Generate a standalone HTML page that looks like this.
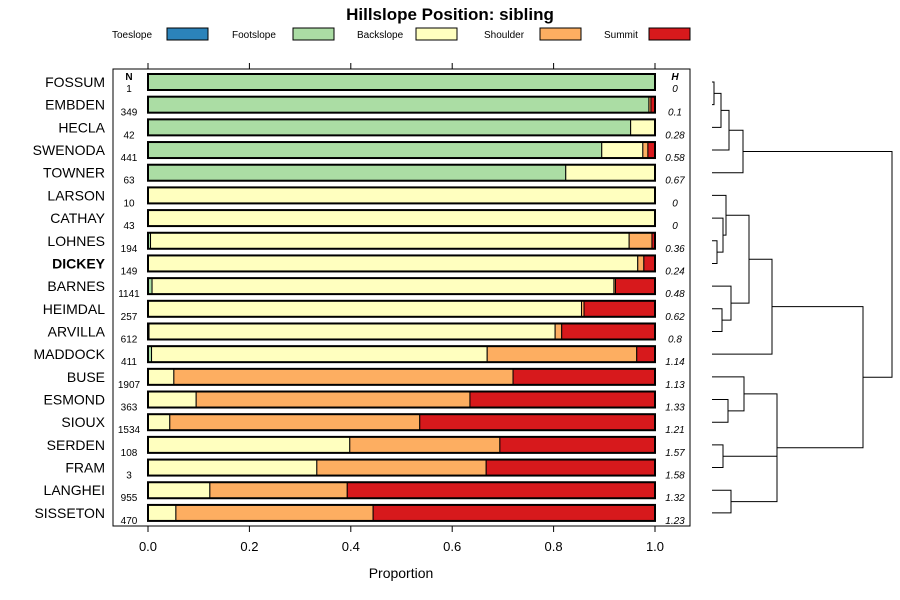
<!DOCTYPE html>
<html><head><meta charset="utf-8"><style>
body{margin:0;background:#fff;font-family:"Liberation Sans",sans-serif}
svg{display:block}
</style></head><body>
<svg id="c" width="900" height="600" font-family="Liberation Sans, sans-serif"></svg>
<script>
const names=["FOSSUM","EMBDEN","HECLA","SWENODA","TOWNER","LARSON","CATHAY","LOHNES","DICKEY","BARNES","HEIMDAL","ARVILLA","MADDOCK","BUSE","ESMOND","SIOUX","SERDEN","FRAM","LANGHEI","SISSETON"];
const counts=[1,349,42,441,63,10,43,194,149,1141,257,612,411,1907,363,1534,108,3,955,470];
const entropy=["0","0.1","0.28","0.58","0.67","0","0","0.36","0.24","0.48","0.62","0.8","1.14","1.13","1.33","1.21","1.57","1.58","1.32","1.23"];
const toeslope=[0,0,0,0,0,0,0,0,0,0,0,0,0,0,0,0,0,0,0,0];
const footslope=[1,0.988,0.952,0.895,0.824,0,0,0.005,0,0.008,0,0.002,0.007,0,0,0,0,0,0,0];
const backslope=[0,0,0.048,0.081,0.176,1,1,0.944,0.966,0.911,0.855,0.801,0.662,0.051,0.095,0.043,0.398,0.333,0.122,0.055];
const shoulder=[0,0.004,0,0.01,0,0,0,0.045,0.012,0.003,0.005,0.013,0.295,0.669,0.54,0.493,0.296,0.334,0.271,0.389];
const summit=[0,0.008,0,0.014,0,0,0,0.006,0.022,0.078,0.14,0.184,0.036,0.28,0.365,0.464,0.306,0.333,0.607,0.556];
const classes=["Toeslope","Footslope","Backslope","Shoulder","Summit"];
const colors=["#2b83ba","#abdda4","#ffffbf","#fdae61","#d7191c"];
const series=[toeslope,footslope,backslope,shoulder,summit];
const xTicks=[0,0.2,0.4,0.6,0.8,1.0];
const xTickLabels=["0.0","0.2","0.4","0.6","0.8","1.0"];

const svg=document.getElementById('c');
const NS="http://www.w3.org/2000/svg";
function mk(t,a,p){const e=document.createElementNS(NS,t);for(const k in a)e.setAttribute(k,a[k]);(p||svg).appendChild(e);return e;}
const x=v=>148+v*507;
const y=i=>82+i*22.68;

let t=mk('text',{x:450,y:20,'text-anchor':'middle','font-size':17,'font-weight':'bold'});t.textContent="Hillslope Position: sibling";


const legX=[112,232,357,484,604];
classes.forEach((c,i)=>{
 const g=mk('g',{});
 
 
 const tx=mk('text',{x:legX[i],y:38,'font-size':10},g);tx.textContent=c;
 const w=[52,58,56,53,42][i];
 mk('rect',{x:legX[i]+w+3,y:28,width:41,height:12,fill:colors[i],stroke:'#000','stroke-width':1},g);
});

const frame=mk('rect',{x:113,y:69,width:577,height:457,fill:'none',stroke:'#000','stroke-width':1});


xTicks.forEach((v,i)=>{
 mk('line',{x1:x(v),x2:x(v),y1:526,y2:532,stroke:'#000'});
 mk('line',{x1:x(v),x2:x(v),y1:63,y2:69,stroke:'#000'});
 const tl=mk('text',{x:x(v),y:551,'text-anchor':'middle','font-size':13});tl.textContent=xTickLabels[i];
 
});
t=mk('text',{x:401,y:578,'text-anchor':'middle','font-size':14});t.textContent="Proportion";


t=mk('text',{x:129,y:80,'text-anchor':'middle','font-size':10,'font-weight':'bold'});t.textContent="N";
t=mk('text',{x:675,y:80,'text-anchor':'middle','font-size':10,'font-weight':'bold','font-style':'italic'});t.textContent="H";

names.forEach((n,i)=>{
 const yc=y(i);
 const lab=mk('text',{x:105,y:yc+5,'text-anchor':'end','font-size':14,'font-weight':n==="DICKEY"?'bold':'normal'});lab.textContent=n;
 
 const nt=mk('text',{x:129,y:yc+(i===0?10:11),'text-anchor':'middle','font-size':10});nt.textContent=counts[i];
 const ht=mk('text',{x:675,y:yc+(i===0?10:11),'text-anchor':'middle','font-size':10,'font-style':'italic'});ht.textContent=entropy[i];
 let cum=0;
 series.forEach((s,k)=>{
  const v=s[i];
  if(v>0){
   const r=mk('rect',{x:x(cum),y:yc-8,width:x(cum+v)-x(cum),height:16,fill:colors[k],stroke:'#000','stroke-width':1});
   
  }
  cum+=v;
 });
 const o=mk('rect',{x:x(0),y:yc-8,width:x(1)-x(0),height:16,fill:'none',stroke:'#000','stroke-width':2});
});

// dendrogram
const dg=mk('g',{stroke:'#000','stroke-width':1,fill:'none'});

const L=712;
function ly(i){return y(i);}
function join(x0,ya,xa,yb,xb){ // U shape: children at ya(from xa) and yb(from xb), joined at x0
 mk('path',{d:`M${xa},${ya}H${x0}V${yb}H${xb}`},dg);
 return (ya+yb)/2;
}
let n1=join(714,ly(0),L,ly(1),L);
let n2=join(721,n1,714,ly(2),L);
let n3=join(729,n2,721,ly(3),L);
let g1=join(743,n3,729,ly(4),L);
let a=join(717,ly(7),L,ly(8),L);
let b=join(723,ly(6),L,a,717);
let c=join(726,ly(5),L,b,723);
let d=join(722,ly(10),L,ly(11),L);
let e=join(731,ly(9),L,d,722);
let f=join(749,c,726,e,731);
let g2=join(772,f,749,ly(12),L);
let h=join(728,ly(14),L,ly(15),L);
let i2=join(744,ly(13),L,h,728);
let j=join(723,ly(16),L,ly(17),L);
let k=join(731,ly(18),L,ly(19),L);
mk('path',{d:`M744,${i2}H777V${k}H731M723,${j}H777`},dg);
let g3=(i2+k)/2;
let g23=join(863,g2,772,g3,777);
join(892,g1,743,g23,863);
</script>
</body></html>
